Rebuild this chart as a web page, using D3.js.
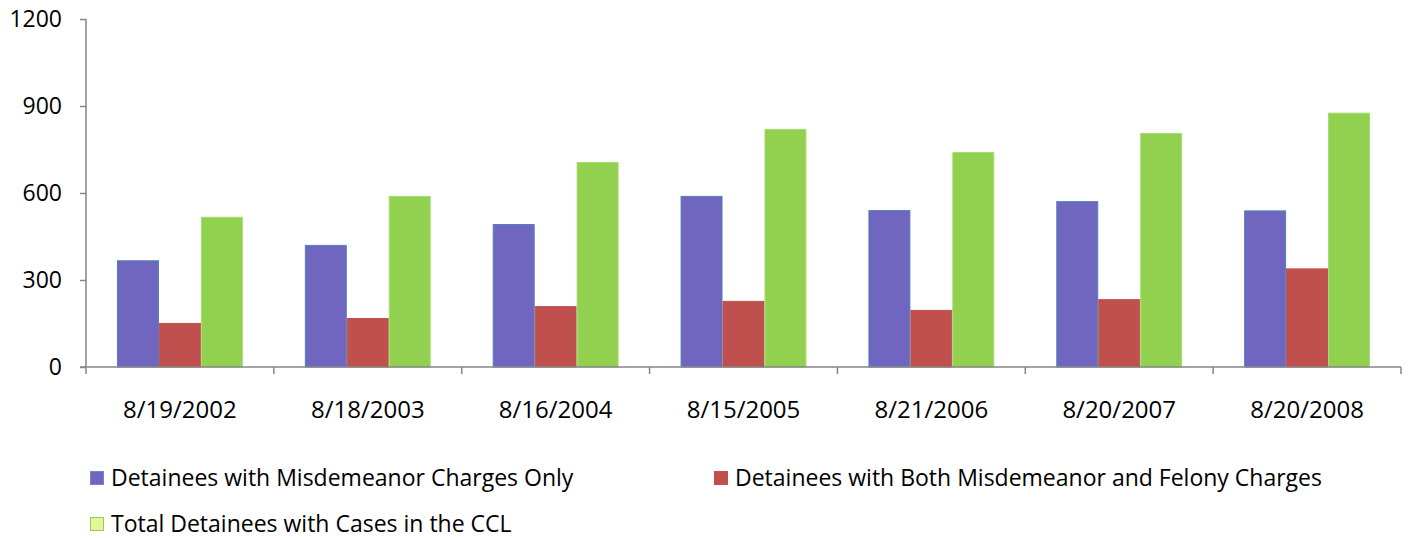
<!DOCTYPE html>
<html lang="en">
<head>
    <meta charset="UTF-8">
    <title>Detainees bar chart</title>
    <script src="https://d3js.org/d3.v7.min.js"></script>
    <style>
        body { margin: 0; background: #fff; }
        svg text { font-family: "Open Sans", sans-serif; fill: #000; }
    </style>
</head>
<body>
    <div id="chart"></div>
    <script>
        // Data
        const dates = ["8/19/2002", "8/18/2003", "8/16/2004", "8/15/2005", "8/21/2006", "8/20/2007", "8/20/2008"];
        const misdemeanorOnly = [368, 421, 493, 590, 541, 572, 540];
        const bothCharges = [152, 169, 210, 228, 197, 234, 340];
        const totalCases = [518, 590, 707, 821, 741, 807, 877];
        const seriesNames = [
            "Detainees with Misdemeanor Charges Only",
            "Detainees with Both Misdemeanor and Felony Charges",
            "Total Detainees with Cases in the CCL"
        ];
        const yTicks = [0, 300, 600, 900, 1200];

        const width = 1411, height = 538;
        const margin = { left: 86, right: 10, top: 19, bottom: 171 };

        const svg = d3.select("#chart").append("svg")
            .attr("width", width)
            .attr("height", height);

        const x = d3.scaleBand()
            .domain(dates)
            .range([margin.left, width - margin.right])
            .paddingInner(0.33)
            .paddingOuter(0.165);

        const series = ["misd", "both", "total"];
        const xInner = d3.scaleBand().domain(series).range([0, x.bandwidth()]);

        const y = d3.scaleLinear()
            .domain([0, 1200])
            .range([height - margin.bottom, margin.top]);

        const fills = { misd: "#7066bf", both: "#c0504d", total: "#92d050" };
        const strokes = { misd: "#4f81bd", both: "#c0504d", total: "#a6dc6e" };

        const rows = dates.map((d, i) => ({
            date: d,
            misd: misdemeanorOnly[i],
            both: bothCharges[i],
            total: totalCases[i]
        }));

        // bars
        const groups = svg.append("g").selectAll("g")
            .data(rows)
            .join("g")
            .attr("transform", d => `translate(${x(d.date)},0)`);

        groups.selectAll("rect")
            .data(d => series.map(k => ({ key: k, value: d[k] })))
            .join("rect")
            .attr("x", d => xInner(d.key) + 0.5)
            .attr("y", d => y(d.value) + 0.5)
            .attr("width", xInner.bandwidth() - 1)
            .attr("height", d => y(0) - y(d.value) - 0.5)
            .attr("fill", d => fills[d.key])
            .attr("stroke", d => strokes[d.key])
            .attr("stroke-width", 1);

        // y axis
        const yAxis = svg.append("g")
            .attr("transform", `translate(${margin.left},0)`)
            .call(d3.axisLeft(y).tickValues(yTicks).tickFormat(d3.format("d")).tickSize(6).tickPadding(18));
        yAxis.selectAll("line, path").attr("stroke", "#868686").attr("stroke-width", 1.5);
        yAxis.select(".domain").attr("d", `M0,${y(1200)}V${y(0)}`);
        yAxis.selectAll("text").style("font-size", "23px");

        // x axis with ticks at band edges
        const xAxis = svg.append("g")
            .attr("transform", `translate(0,${y(0)})`);
        xAxis.append("line")
            .attr("x1", margin.left - 6).attr("x2", width - margin.right)
            .attr("stroke", "#868686").attr("stroke-width", 1.5);
        const step = x.step();
        const edges = d3.range(dates.length + 1).map(i => margin.left + i * step);
        xAxis.selectAll(".tk").data(edges).join("line")
            .attr("class", "tk")
            .attr("x1", d => d).attr("x2", d => d)
            .attr("y1", 0).attr("y2", 7)
            .attr("stroke", "#868686").attr("stroke-width", 1.5);
        xAxis.selectAll(".lbl").data(dates).join("text")
            .attr("class", "lbl")
            .attr("x", d => x(d) + x.bandwidth() / 2)
            .attr("y", 51)
            .attr("text-anchor", "middle")
            .style("font-size", "24px")
            .text(d => d);

        // legend
        const legendPos = [
            { x: 90, y: 471 },
            { x: 714, y: 471 },
            { x: 90, y: 517 }
        ];
        const legendFill = ["#7066bf", "#c0504d", "#e6f59a"];
        const legendStroke = ["#6f86c8", "#c0504d", "#92d050"];
        const legend = svg.append("g").selectAll("g")
            .data(seriesNames)
            .join("g")
            .attr("transform", (d, i) => `translate(${legendPos[i].x},${legendPos[i].y})`);
        legend.append("rect")
            .attr("x", 0.5).attr("y", 0.5)
            .attr("width", 13).attr("height", 13)
            .attr("fill", (d, i) => legendFill[i])
            .attr("stroke", (d, i) => legendStroke[i]);
        legend.append("text")
            .attr("x", 21)
            .attr("y", 15)
            .style("font-size", "23px")
            .text(d => d);
    </script>
</body>
</html>
